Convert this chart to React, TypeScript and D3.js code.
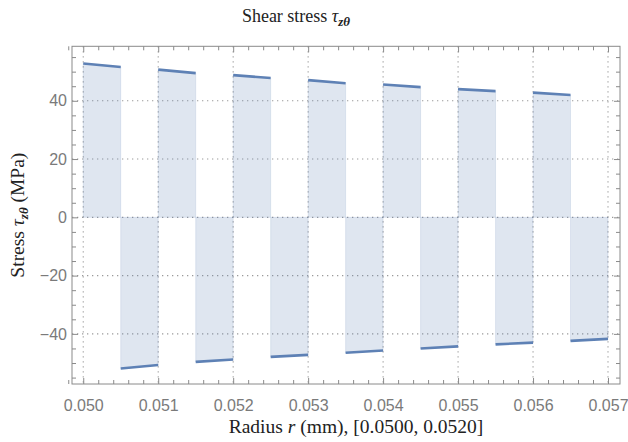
import { useEffect, useRef } from 'react';
import * as d3 from 'd3';

// segment boundaries along the radius
const breaks = [0.05, 0.0505, 0.051, 0.0515, 0.052, 0.0525, 0.053, 0.0535, 0.054, 0.0545, 0.055, 0.0555, 0.056, 0.0565, 0.057];
// stress at the start and end of each segment (MPa)
const startVals = [52.8, -51.9, 50.7, -49.6, 48.8, -47.9, 47.1, -46.5, 45.6, -45.0, 44.0, -43.6, 42.8, -42.4];
const endVals = [51.6, -50.7, 49.5, -48.8, 47.8, -47.2, 46.0, -45.7, 44.7, -44.3, 43.3, -43.0, 42.0, -41.7];

const xTicks = [0.05, 0.051, 0.052, 0.053, 0.054, 0.055, 0.056, 0.057];
const yTicks = [-40, -20, 0, 20, 40];

function App() {
  const svgRef = useRef<SVGSVGElement>(null);

  useEffect(() => {
    document.body.style.margin = '0';
    const W = 628;
    const H = 442;
    const left = 72, right = 620, top = 46.3, bottom = 384;

    const svg = d3.select(svgRef.current).attr('width', W).attr('height', H);
    svg.selectAll('*').remove();

    const x = d3.scaleLinear().domain([0.04985, 0.05716]).range([left, right]);
    const y = d3.scaleLinear().domain([-57.2, 58.7]).range([bottom, top]);

    const lineColor = '#5E81B5';
    const frameColor = '#8a8a8a';

    // grid
    const grid = svg.append('g');
    grid.selectAll('line.gx').data(xTicks).enter().append('line')
      .attr('x1', (d) => x(d)).attr('x2', (d) => x(d))
      .attr('y1', top).attr('y2', bottom);
    grid.selectAll('line.gy').data(yTicks).enter().append('line')
      .attr('y1', (d) => y(d)).attr('y2', (d) => y(d))
      .attr('x1', left).attr('x2', right);
    grid.selectAll('line')
      .attr('stroke', '#9a9a9a')
      .attr('stroke-width', 1.1)
      .attr('stroke-dasharray', '1.3,3.7');

    const segs = startVals.map((v, i) => ({
      x0: breaks[i], x1: breaks[i + 1], v0: v, v1: endVals[i],
    }));

    // filling to zero
    const area = d3.area<[number, number]>()
      .x((d) => x(d[0]))
      .y0(y(0))
      .y1((d) => y(d[1]));
    svg.append('g').selectAll('path').data(segs).enter().append('path')
      .attr('d', (s) => area([[s.x0, s.v0], [s.x1, s.v1]]))
      .attr('fill', lineColor)
      .attr('fill-opacity', 0.2)
      .attr('stroke', lineColor)
      .attr('stroke-opacity', 0.15)
      .attr('stroke-width', 1);

    // stress lines
    const line = d3.line<[number, number]>().x((d) => x(d[0])).y((d) => y(d[1]));
    svg.append('g').selectAll('path').data(segs).enter().append('path')
      .attr('d', (s) => line([[s.x0, s.v0], [s.x1, s.v1]]))
      .attr('fill', 'none')
      .attr('stroke', lineColor)
      .attr('stroke-width', 2.6);

    // frame
    svg.append('rect')
      .attr('x', left).attr('y', top)
      .attr('width', right - left).attr('height', bottom - top)
      .attr('fill', 'none')
      .attr('stroke', frameColor)
      .attr('stroke-width', 1);

    const xMinor = d3.range(0.0498, 0.05716, 0.0002).filter((v) => xTicks.every((t) => Math.abs(t - v) > 1e-7));
    const yMinor = d3.range(-55, 58, 5).filter((v) => yTicks.indexOf(v) < 0);

    const tickStyle = (g: any) => {
      g.select('.domain').remove();
      g.selectAll('line').attr('stroke', frameColor);
      g.selectAll('text')
        .attr('fill', '#7a7a7a')
        .style('font-family', '"Liberation Sans", Arial, sans-serif')
        .style('font-size', '16px');
    };

    // bottom
    svg.append('g').attr('transform', `translate(0,${bottom})`)
      .call(d3.axisBottom(x).tickValues(xTicks).tickFormat(d3.format('.3f')).tickSizeInner(-6).tickPadding(16))
      .call(tickStyle);
    svg.append('g').attr('transform', `translate(0,${bottom})`)
      .call(d3.axisBottom(x).tickValues(xMinor).tickFormat(() => '').tickSizeInner(-4))
      .call(tickStyle);
    // top
    svg.append('g').attr('transform', `translate(0,${top})`)
      .call(d3.axisTop(x).tickValues(xTicks).tickFormat(() => '').tickSizeInner(-6))
      .call(tickStyle);
    svg.append('g').attr('transform', `translate(0,${top})`)
      .call(d3.axisTop(x).tickValues(xMinor).tickFormat(() => '').tickSizeInner(-4))
      .call(tickStyle);
    // left
    svg.append('g').attr('transform', `translate(${left},0)`)
      .call(d3.axisLeft(y).tickValues(yTicks).tickFormat((d: any) => (d < 0 ? '\u2212' + Math.abs(d) : String(d))).tickSizeInner(-6).tickPadding(5))
      .call(tickStyle);
    svg.append('g').attr('transform', `translate(${left},0)`)
      .call(d3.axisLeft(y).tickValues(yMinor).tickFormat(() => '').tickSizeInner(-4))
      .call(tickStyle);
    // right
    svg.append('g').attr('transform', `translate(${right},0)`)
      .call(d3.axisRight(y).tickValues(yTicks).tickFormat(() => '').tickSizeInner(-6))
      .call(tickStyle);
    svg.append('g').attr('transform', `translate(${right},0)`)
      .call(d3.axisRight(y).tickValues(yMinor).tickFormat(() => '').tickSizeInner(-4))
      .call(tickStyle);

    const serif = '"Liberation Serif", "DejaVu Serif", serif';

    // title
    const title = svg.append('text')
      .attr('x', 296).attr('y', 22)
      .attr('text-anchor', 'middle')
      .style('font-family', serif)
      .style('font-size', '18px')
      .attr('fill', '#222');
    title.append('tspan').text('Shear stress ');
    title.append('tspan').style('font-style', 'italic').text('\u03c4');
    title.append('tspan').attr('dy', 4).style('font-size', '13px').style('font-style', 'italic').style('font-weight', 'bold').text('z\u03b8');

    // x label
    const xl = svg.append('text')
      .attr('x', 356).attr('y', 433)
      .attr('text-anchor', 'middle')
      .style('font-family', serif)
      .style('font-size', '19.5px')
      .attr('fill', '#222');
    xl.append('tspan').text('Radius ');
    xl.append('tspan').style('font-style', 'italic').text('r');
    xl.append('tspan').text(' (mm), [0.0500, 0.0520]');

    // y label
    const yl = svg.append('text')
      .attr('transform', `translate(24,${(top + bottom) / 2}) rotate(-90)`)
      .attr('text-anchor', 'middle')
      .style('font-family', serif)
      .style('font-size', '19.5px')
      .attr('fill', '#222');
    yl.append('tspan').text('Stress ');
    yl.append('tspan').style('font-style', 'italic').text('\u03c4');
    yl.append('tspan').attr('dy', 4).style('font-size', '13px').style('font-style', 'italic').style('font-weight', 'bold').text('z\u03b8');
    yl.append('tspan').attr('dy', -4).text(' (MPa)');
  }, []);

  return <svg ref={svgRef}></svg>;
}

export default App;
